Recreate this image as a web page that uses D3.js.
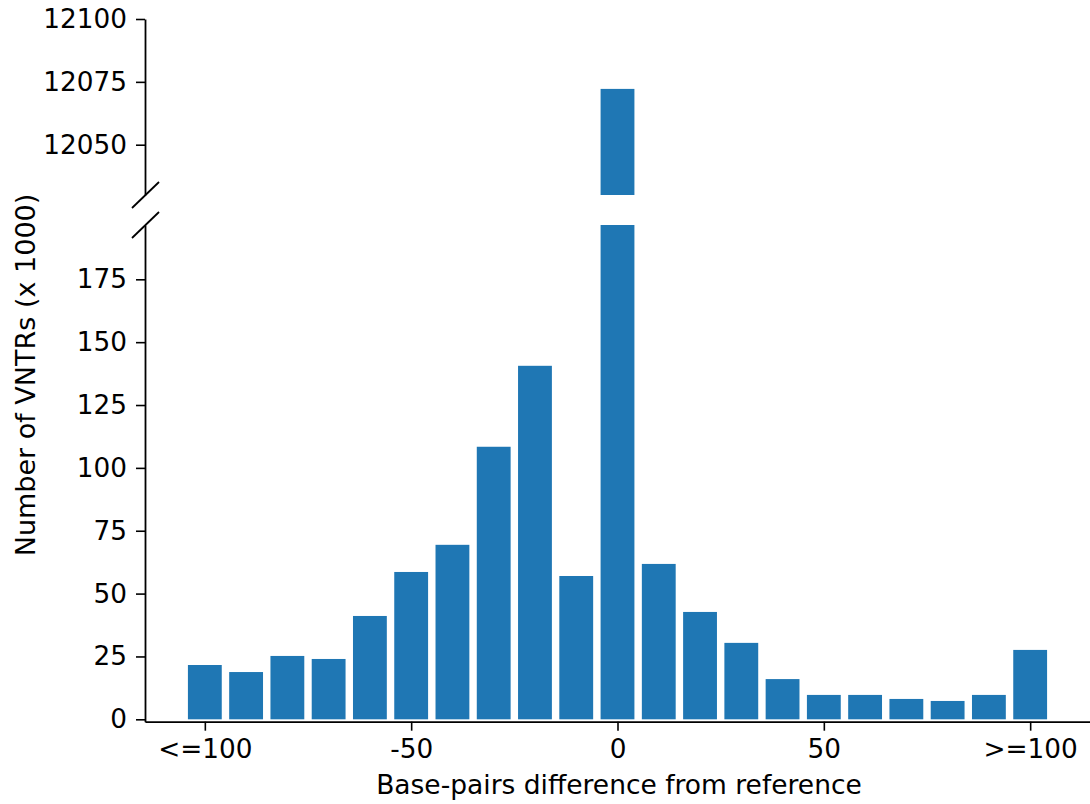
<!DOCTYPE html>
<html>
<head>
<meta charset="utf-8">
<script src="https://cdn.jsdelivr.net/npm/d3@7"></script>
<style>
  html, body { margin: 0; padding: 0; background: #fff; }
  svg { display: block; font-family: "DejaVu Sans", sans-serif; }
</style>
</head>
<body>
<svg id="chart" width="1090" height="804"></svg>
<script>
// Length difference bins (bp) and VNTR counts (thousands)
const bins = [-100, -90, -80, -70, -60, -50, -40, -30, -20, -10, 0, 10, 20, 30, 40, 50, 60, 70, 80, 90, 100];
const counts = [21.6, 18.8, 25.2, 24.0, 41.1, 58.6, 69.4, 108.4, 140.6, 57.0, 12072.2, 61.8, 42.7, 30.4, 16.0, 9.7, 9.7, 8.1, 7.3, 9.7, 27.6];
const xTicks = [-100, -50, 0, 50, 100];
const xTickLabels = ["<=100", "-50", "0", "50", ">=100"];
const upperTicks = [12050, 12075, 12100];
const lowerTicks = [0, 25, 50, 75, 100, 125, 150, 175];

const svg = d3.select("#chart");
const color = "#1f77b4";
const left = 145, right = 1090;
const barWidth = 8.2;
const fontSize = 26.3;

const x = d3.scaleLinear().domain([-114.5, 114.5]).range([left, right]);
// upper panel: the off-scale peak
const yTop = d3.scaleLinear().domain([12030, 12100]).range([195, 19]);
// lower panel: everything else
const yBot = d3.scaleLinear().domain([-0.95, 196.6]).range([721.7, 225]);

const data = bins.map((b, i) => ({ bin: b, value: counts[i] }));

function panel(y, clipId) {
  const [y0, y1] = y.range();
  svg.append("clipPath").attr("id", clipId)
    .append("rect").attr("x", left).attr("y", y1).attr("width", right - left).attr("height", y0 - y1);
  svg.append("g").attr("clip-path", `url(#${clipId})`)
    .selectAll("rect").data(data).join("rect")
      .attr("x", d => x(d.bin - barWidth / 2))
      .attr("width", d => x(d.bin + barWidth / 2) - x(d.bin - barWidth / 2))
      .attr("y", d => y(Math.min(d.value, y.domain()[1] + 10)))
      .attr("height", d => Math.max(0, y(Math.max(0, y.domain()[0])) - y(Math.min(d.value, y.domain()[1] + 10))))
      .attr("fill", color);
}
panel(yTop, "clipTop");
panel(yBot, "clipBot");

function styleAxis(g) {
  g.selectAll(".domain").attr("stroke", "#000").attr("stroke-width", 1.8);
  g.selectAll(".tick line").attr("stroke", "#000").attr("stroke-width", 1.6);
  g.selectAll(".tick text").attr("font-size", fontSize).attr("fill", "#000")
    .attr("font-family", "DejaVu Sans, sans-serif");
}

// left axes
const axTop = svg.append("g").attr("transform", `translate(${left},0)`)
  .call(d3.axisLeft(yTop).tickValues(upperTicks).tickFormat(d3.format("d")).tickSize(9).tickPadding(9).tickSizeOuter(0));
styleAxis(axTop);
const axBot = svg.append("g").attr("transform", `translate(${left},0)`)
  .call(d3.axisLeft(yBot).tickValues(lowerTicks).tickFormat(d3.format("d")).tickSize(9).tickPadding(9).tickSizeOuter(0));
styleAxis(axBot);

// bottom axis
const axX = svg.append("g").attr("transform", `translate(0,${yBot.range()[0]})`)
  .call(d3.axisBottom(x).tickValues(xTicks).tickFormat((d, i) => xTickLabels[i]).tickSize(9).tickPadding(9).tickSizeOuter(0));
styleAxis(axX);

// break marks on the left spine
const breaks = [yTop.range()[0], yBot.range()[1]];
svg.append("g").selectAll("line").data(breaks).join("line")
  .attr("x1", left - 13).attr("y1", d => d + 13)
  .attr("x2", left + 14).attr("y2", d => d - 13)
  .attr("stroke", "#000").attr("stroke-width", 1.8);

// axis titles
svg.append("text")
  .attr("x", 619).attr("y", 794)
  .attr("text-anchor", "middle").attr("font-size", 26.5).attr("fill", "#000")
  .text("Base-pairs difference from reference");
svg.append("text")
  .attr("transform", "translate(35,375) rotate(-90)")
  .attr("text-anchor", "middle").attr("font-size", 27).attr("fill", "#000")
  .text("Number of VNTRs (x 1000)");
</script>
</body>
</html>
